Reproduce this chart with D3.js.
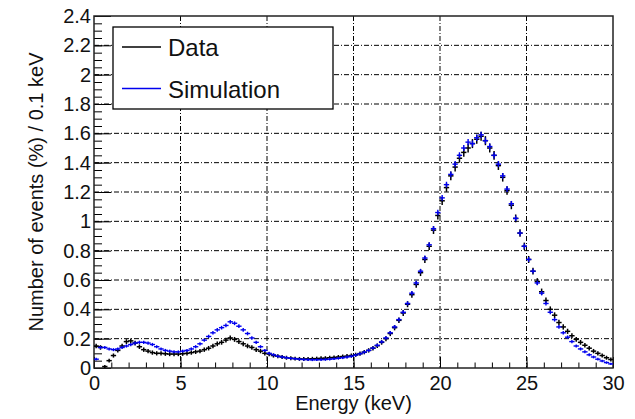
<!DOCTYPE html>
<html>
<head>
<meta charset="utf-8">
<script src="https://cdn.jsdelivr.net/npm/d3@7"></script>
<style>
  body { margin: 0; background: #fff; }
  svg text { font-family: "Liberation Sans", Arial, sans-serif; fill: #111; }
</style>
</head>
<body>
<div id="chart"></div>
<script>
// Histogram bins: 0.25 keV wide, 0 to 30 keV
const binWidth = 0.25;
const binCenters = d3.range(120).map(i => (i + 0.5) * binWidth);

// Data (percent of events per 0.1 keV)
const dataValues = [
  0.15, 0.14, 0.01, 0.05, 0.085, 0.12, 0.15, 0.18, 0.185, 0.17,
  0.145, 0.125, 0.115, 0.105, 0.10, 0.10, 0.097, 0.095, 0.095, 0.095,
  0.097, 0.10, 0.105, 0.11, 0.115, 0.125, 0.135, 0.15, 0.165, 0.175,
  0.19, 0.205, 0.195, 0.18, 0.165, 0.15, 0.14, 0.125, 0.115, 0.10,
  0.095, 0.085, 0.08, 0.075, 0.07, 0.067, 0.064, 0.062, 0.061, 0.062,
  0.063, 0.064, 0.066, 0.067, 0.07, 0.072, 0.075, 0.078, 0.081, 0.085,
  0.09, 0.098, 0.108, 0.12, 0.135, 0.152, 0.175, 0.20, 0.235, 0.275,
  0.325, 0.375, 0.435, 0.50, 0.57, 0.65, 0.74, 0.83, 0.94, 1.04,
  1.14, 1.23, 1.31, 1.37, 1.43, 1.47, 1.50, 1.53, 1.56, 1.58,
  1.55, 1.50, 1.45, 1.38, 1.30, 1.21, 1.11, 1.02, 0.92, 0.83,
  0.74, 0.66, 0.59, 0.52, 0.46, 0.40, 0.36, 0.31, 0.28, 0.25,
  0.22, 0.195, 0.175, 0.155, 0.135, 0.115, 0.10, 0.085, 0.07, 0.058
];

// Simulation
const simValues = [
  0.06, 0.14, 0.14, 0.13, 0.125, 0.13, 0.14, 0.15, 0.16, 0.17,
  0.175, 0.175, 0.17, 0.16, 0.145, 0.13, 0.12, 0.115, 0.11, 0.11,
  0.115, 0.12, 0.13, 0.145, 0.165, 0.19, 0.215, 0.24, 0.26, 0.275,
  0.29, 0.315, 0.305, 0.285, 0.26, 0.235, 0.205, 0.175, 0.145, 0.12,
  0.10, 0.09, 0.08, 0.075, 0.07, 0.066, 0.063, 0.06, 0.058, 0.057,
  0.056, 0.056, 0.057, 0.058, 0.06, 0.063, 0.066, 0.07, 0.075, 0.08,
  0.088, 0.097, 0.108, 0.12, 0.136, 0.155, 0.178, 0.205, 0.24, 0.28,
  0.33, 0.38, 0.44, 0.51, 0.58, 0.66, 0.75, 0.84, 0.95, 1.06,
  1.16, 1.25, 1.32, 1.39, 1.45, 1.50, 1.54, 1.53, 1.57, 1.59,
  1.55, 1.51, 1.45, 1.39, 1.31, 1.22, 1.12, 1.02, 0.92, 0.83,
  0.74, 0.66, 0.58, 0.51, 0.44, 0.38, 0.33, 0.28, 0.24, 0.21,
  0.18, 0.15, 0.13, 0.11, 0.09, 0.075, 0.06, 0.048, 0.037, 0.028
];

const xTicks = [0, 5, 10, 15, 20, 25, 30];
const xMinorTicks = d3.range(0, 31, 1);
const yTicks = [0, 0.2, 0.4, 0.6, 0.8, 1, 1.2, 1.4, 1.6, 1.8, 2, 2.2, 2.4];
const yTickLabels = ['0', '0.2', '0.4', '0.6', '0.8', '1', '1.2', '1.4', '1.6', '1.8', '2', '2.2', '2.4'];
const yMinorTicks = d3.range(0, 49).map(i => i * 0.05);
const legendLabels = ['Data', 'Simulation'];
const seriesColors = ['#000', '#0000ee'];

const width = 635, height = 419;
const margin = {top: 16, right: 22, bottom: 51, left: 94};
const w = width - margin.left - margin.right;
const h = height - margin.top - margin.bottom;

const svg = d3.select('#chart').append('svg')
  .attr('width', width)
  .attr('height', height);

const g = svg.append('g')
  .attr('transform', `translate(${margin.left},${margin.top})`);

const x = d3.scaleLinear().domain([0, 30]).range([0, w]);
const y = d3.scaleLinear().domain([0, 2.4]).range([h, 0]);

// dash-dot grid
const grid = g.append('g')
  .attr('stroke', '#000')
  .attr('stroke-width', 1)
  .attr('stroke-dasharray', '5,2,1,2');
grid.selectAll('.vgrid')
  .data(xTicks.slice(1, -1))
  .enter().append('line')
  .attr('x1', d => x(d)).attr('x2', d => x(d))
  .attr('y1', 0).attr('y2', h);
grid.selectAll('.hgrid')
  .data(yTicks.slice(1, -1))
  .enter().append('line')
  .attr('x1', 0).attr('x2', w)
  .attr('y1', d => y(d)).attr('y2', d => y(d));

// minor ticks
g.append('g')
  .call(d3.axisLeft(y).tickValues(yMinorTicks).tickSize(-8).tickFormat(''))
  .call(a => a.select('.domain').remove());
g.append('g')
  .attr('transform', `translate(0,${h})`)
  .call(d3.axisBottom(x).tickValues(xMinorTicks).tickSize(-5.5).tickFormat(''))
  .call(a => a.select('.domain').remove());

// major ticks + labels
const yAxis = g.append('g')
  .call(d3.axisLeft(y).tickValues(yTicks).tickSize(-17).tickPadding(3)
    .tickFormat((d, i) => yTickLabels[i]));
yAxis.selectAll('text').attr('font-size', 20).attr('fill', '#111');
yAxis.select('.domain').remove();

const xAxis = g.append('g')
  .attr('transform', `translate(0,${h})`)
  .call(d3.axisBottom(x).tickValues(xTicks).tickSize(-11).tickPadding(8));
xAxis.selectAll('text').attr('font-size', 20).attr('fill', '#111');
xAxis.select('.domain').remove();

// frame
g.append('rect')
  .attr('width', w).attr('height', h)
  .attr('fill', 'none')
  .attr('stroke', '#222')
  .attr('stroke-width', 1.5);

// histograms with error bars
g.append('clipPath').attr('id', 'clip')
  .append('rect').attr('width', w).attr('height', h);

function drawHist(values, color, errScale, sw) {
  const pts = g.append('g')
    .attr('clip-path', 'url(#clip)')
    .attr('stroke', color)
    .attr('stroke-width', sw)
    .selectAll('g')
    .data(values.map((v, i) => ({e: binCenters[i], v})))
    .enter().append('g');
  pts.append('line')
    .attr('x1', d => x(d.e - binWidth / 2) - 0.5)
    .attr('x2', d => x(d.e + binWidth / 2) + 0.5)
    .attr('y1', d => y(d.v)).attr('y2', d => y(d.v));
  pts.append('line')
    .attr('x1', d => x(d.e)).attr('x2', d => x(d.e))
    .attr('y1', d => y(d.v) - errScale * (1 + 2 * Math.sqrt(d.v)))
    .attr('y2', d => y(d.v) + errScale * (1 + 2 * Math.sqrt(d.v)));
}
drawHist(dataValues, seriesColors[0], 1.3, 1.5);
drawHist(simValues, seriesColors[1], 0.9, 1.4);

// axis titles
svg.append('text')
  .attr('x', margin.left + w / 2)
  .attr('y', 410)
  .attr('text-anchor', 'middle')
  .attr('font-size', 20)
  .text('Energy (keV)');

svg.append('text')
  .attr('transform', `translate(43,${margin.top + h / 2}) rotate(-90)`)
  .attr('text-anchor', 'middle')
  .attr('font-size', 20)
  .text('Number of events (%) / 0.1 keV');

// legend
const legend = svg.append('g');
legend.append('rect')
  .attr('x', 113).attr('y', 27)
  .attr('width', 220).attr('height', 82)
  .attr('fill', '#fff')
  .attr('stroke', '#000')
  .attr('stroke-width', 1.3);
legendLabels.forEach((label, i) => {
  const ly = 47 + i * 41.5;
  legend.append('line')
    .attr('x1', 122).attr('x2', 161)
    .attr('y1', ly).attr('y2', ly)
    .attr('stroke', seriesColors[i])
    .attr('stroke-width', 1.3);
  legend.append('text')
    .attr('x', 168).attr('y', ly + 9)
    .attr('font-size', 24)
    .text(label);
});
</script>
</body>
</html>
